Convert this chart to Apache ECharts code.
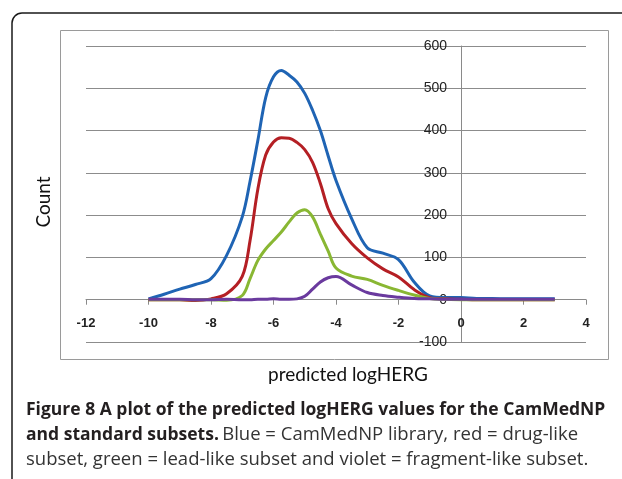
<!DOCTYPE html>
<html>
<head>
<meta charset="utf-8">
<script src="https://cdn.jsdelivr.net/npm/echarts@6/dist/echarts.min.js"></script>
<style>
html,body{margin:0;padding:0;background:#fff;}
#chart{width:622px;height:479px;}
</style>
</head>
<body>
<div id="chart"></div>
<script>
// predicted logHERG bin positions
const xValues = [-10,-9.5,-9,-8.5,-8,-7.5,-7,-6.75,-6.5,-6.25,-6,-5.75,-5.5,-5.25,-5,-4.75,-4.5,-4.25,-4,-3.5,-3,-2.5,-2,-1.5,-1,-0.5,0,0.5,1,1.5,2,2.5,3];
// Blue = CamMedNP library
const camMedNP = [2,13,25,36,50,105,196,280,377,478,527,542,531,515,488,448,400,340,282,192,123,110,95,42,9,5,5,3,3,2,2,2,2];
// Red = drug-like subset
const drugLike = [0,0,0,-2,2,14,55,140,262,342,373,383,382,372,355,325,275,215,180,133,99,73,54,24,5,2,1,0,0,0,0,0,0];
// Green = lead-like subset
const leadLike = [0,0,0,0,0,-1,10,50,93,120,140,160,184,205,213,196,155,115,75,56,48,34,22,11,3,1,0,0,0,0,0,0,0];
// Violet = fragment-like subset
const fragmentLike = [1,1,1,0,0,1,0,0,1,1,2,1,1,2,8,25,42,52,55,35,17,10,6,3,2,1,1,1,1,1,1,1,1];

const xTicks = [-12,-10,-8,-6,-4,-2,0,2,4];
const yTicks = [-100,0,100,200,300,400,500,600];

const seriesDefs = [
  {name:'CamMedNP library', values: camMedNP, color:'#1f64b4'},
  {name:'drug-like subset', values: drugLike, color:'#b41f24'},
  {name:'lead-like subset', values: leadLike, color:'#89b733'},
  {name:'fragment-like subset', values: fragmentLike, color:'#6a3a9e'}
];

const chart = echarts.init(document.getElementById('chart'), null, {renderer:'canvas'});
const FONT = '"Open Sans", Lato, sans-serif';
const GRID = {left:86, right:36, top:46, bottom:137};
const plotW = 622 - GRID.left - GRID.right;
const plotH = 479 - GRID.top - GRID.bottom;
const xMin = xTicks[0], xMax = xTicks[xTicks.length-1];
const yMin = yTicks[0], yMax = yTicks[yTicks.length-1];
// shift axes so they sit on the zero lines (labels move with them)
const yAxisShift = -plotW * (0 - xMin) / (xMax - xMin);
const xAxisShift = -plotH * (0 - yMin) / (yMax - yMin);

chart.setOption({
  animation:false,
  backgroundColor:'#fff',
  grid:Object.assign({containLabel:false}, GRID),
  xAxis:{
    type:'value', min:xMin, max:xMax, interval:2, position:'bottom', offset:xAxisShift,
    axisLine:{onZero:false, lineStyle:{color:'#8a8a8a', width:1}},
    axisTick:{show:true, inside:false, length:5, lineStyle:{color:'#8a8a8a'}},
    axisLabel:{margin:17, color:'#222', fontWeight:'bold', fontSize:13, fontFamily:'"Liberation Sans", Arial, sans-serif'},
    splitLine:{show:false}
  },
  yAxis:{
    type:'value', min:yMin, max:yMax, interval:100, position:'left', offset:yAxisShift,
    axisLine:{show:true, onZero:false, lineStyle:{color:'#8a8a8a', width:1}},
    axisTick:{show:false},
    axisLabel:{margin:14, color:'#222', fontSize:14, fontFamily:'"Liberation Sans", Arial, sans-serif'},
    splitLine:{show:true, lineStyle:{color:'#8c8c8c', width:1}},
    name:'Count', nameLocation:'middle', nameRotate:90, nameGap:408,
    nameTextStyle:{color:'#111', fontSize:19, fontFamily:'Lato, sans-serif', padding:[0,16,0,0]}
  },
  series: seriesDefs.map(s => ({
    name:s.name, type:'line', smooth:0.35, showSymbol:false, symbol:'none',
    lineStyle:{color:s.color, width:3}, itemStyle:{color:s.color},
    data: xValues.map((x,i)=>[x, s.values[i]])
  })),
  graphic:[
    {type:'rect', shape:{x:12, y:13, width:700, height:600, r:[10,0,0,0]}, style:{fill:'none', stroke:'#1a1a1a', lineWidth:1.5}, z:-1},
    {type:'rect', shape:{x:60.5, y:30.5, width:548, height:329}, style:{fill:'none', stroke:'#9a9a9a', lineWidth:1}, z:-1},
    {type:'text', x:348, y:375, style:{text:'predicted logHERG', font:'19px Lato, sans-serif', fill:'#111', textAlign:'center', textVerticalAlign:'middle'}},
    {type:'text', x:26, y:410, style:{text:'Figure 8 A plot of the predicted logHERG values for the CamMedNP', font:'bold 17.5px '+FONT, fill:'#231f20', textVerticalAlign:'middle'}},
    {type:'text', x:26, y:435, style:{
      text:'{b|and standard subsets.} {n|Blue = CamMedNP library, red = drug-like}',
      textVerticalAlign:'middle',
      rich:{
        b:{font:'bold 17.5px '+FONT, fill:'#231f20'},
        n:{font:'18.5px '+FONT, fill:'#333'}
      }}},
    {type:'text', x:26, y:460, style:{text:'subset, green = lead-like subset and violet = fragment-like subset.', font:'18.5px '+FONT, fill:'#333', textVerticalAlign:'middle'}}
  ]
});
</script>
</body>
</html>
